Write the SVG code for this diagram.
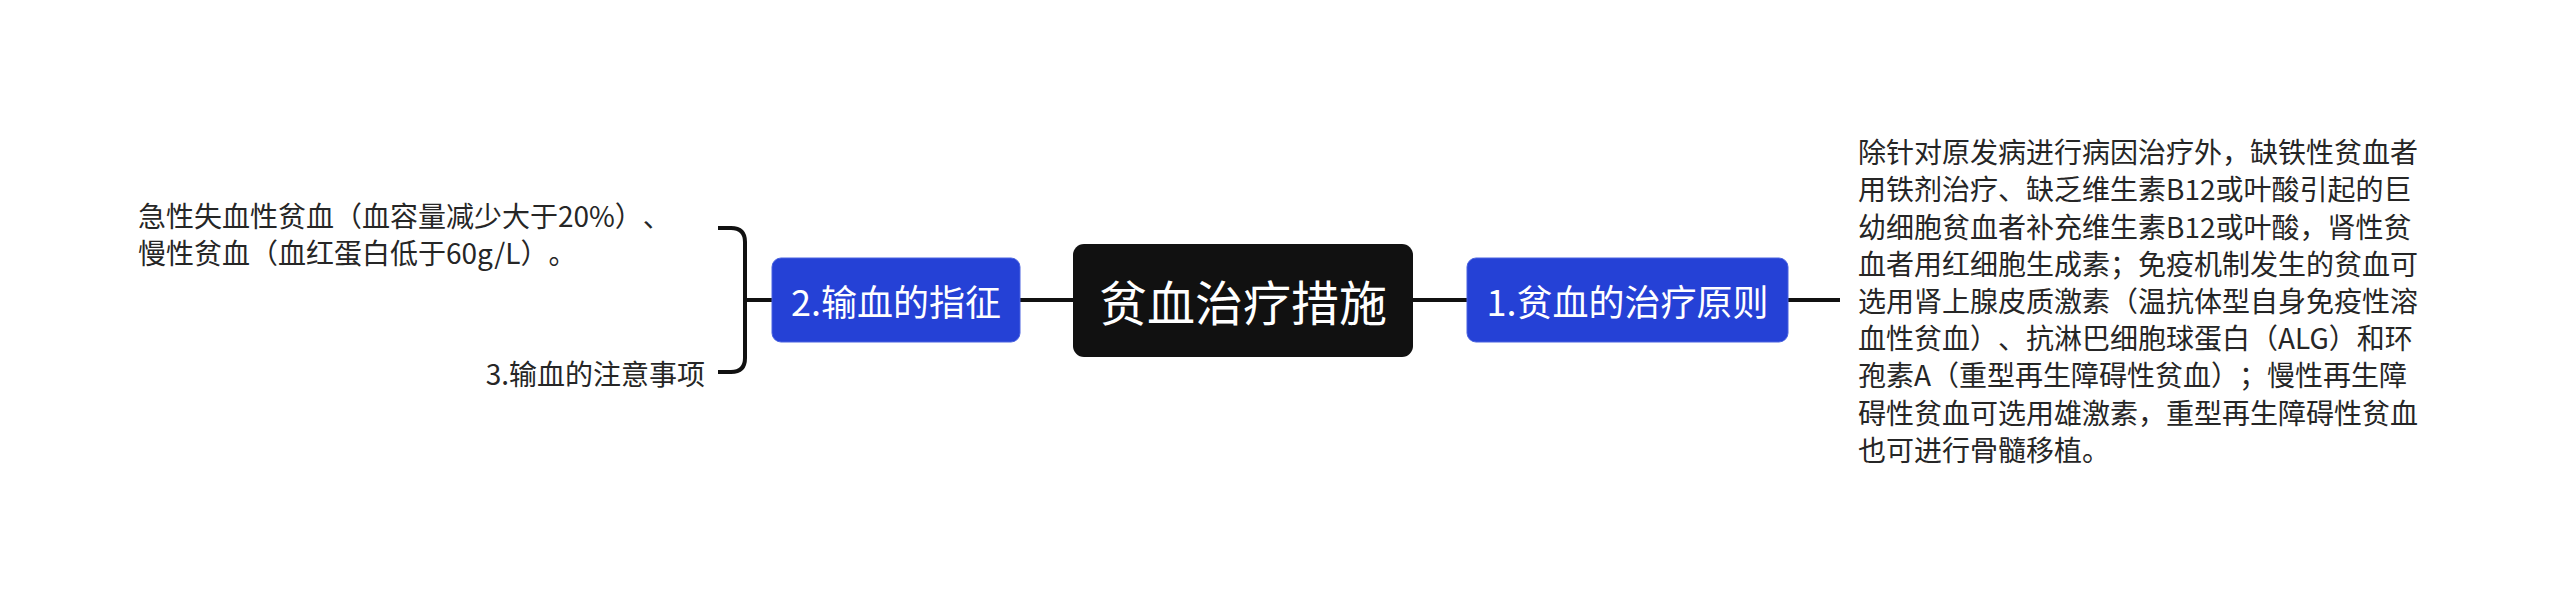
<svg xmlns="http://www.w3.org/2000/svg" width="2560" height="601" viewBox="0 0 2560 601">
  <style>
    text { text-spacing-trim: space-all; font-feature-settings: "halt" 0, "chws" 0; }
    .txt { font-family: "Noto Sans CJK SC", "Noto Sans", sans-serif; fill: #262626; font-size: 28px; dominant-baseline: central; }
    .ntxt { font-family: "Noto Sans CJK SC", "Noto Sans", sans-serif; fill: #ffffff; text-anchor: middle; dominant-baseline: central; }
    .blue { fill: #2541d6; stroke: #4a63e0; stroke-width: 1; }
    .conn { fill: none; stroke: #111111; stroke-width: 4; }
  </style>
  <rect width="2560" height="601" fill="#ffffff"/>
  <g id="connectors">
    <line class="conn" x1="1413" y1="300" x2="1467" y2="300"/>
    <line class="conn" x1="1788" y1="300" x2="1840" y2="300"/>
    <line class="conn" x1="1020" y1="300" x2="1073" y2="300"/>
    <line class="conn" x1="745" y1="300" x2="772" y2="300"/>
    <path class="conn" d="M718 228 H731 Q745 228 745 242 V358 Q745 372 731 372 H718"/>
  </g>
  <g id="center">
    <rect x="1073" y="244" width="340" height="113" rx="11" fill="#111111"/>
    <text class="ntxt" x="1243" y="300" font-size="48">贫血治疗措施</text>
  </g>
  <g id="node1">
    <rect class="blue" x="1467" y="258" width="321" height="84" rx="9"/>
    <text class="ntxt" x="1627.5" y="300" font-size="36">1.贫血的治疗原则</text>
  </g>
  <g id="node1-detail">
    <text class="txt" x="1858" y="151">除针对原发病进行病因治疗外，缺铁性贫血者</text>
    <text class="txt" x="1858" y="188.4">用铁剂治疗、缺乏维生素B12或叶酸引起的巨</text>
    <text class="txt" x="1858" y="225.6">幼细胞贫血者补充维生素B12或叶酸，肾性贫</text>
    <text class="txt" x="1858" y="262.8">血者用红细胞生成素；免疫机制发生的贫血可</text>
    <text class="txt" x="1858" y="300">选用肾上腺皮质激素（温抗体型自身免疫性溶</text>
    <text class="txt" x="1858" y="337.2">血性贫血）、抗淋巴细胞球蛋白（ALG）和环</text>
    <text class="txt" x="1858" y="374.4">孢素A（重型再生障碍性贫血）；慢性再生障</text>
    <text class="txt" x="1858" y="411.6">碍性贫血可选用雄激素，重型再生障碍性贫血</text>
    <text class="txt" x="1858" y="448.8">也可进行骨髓移植。</text>
  </g>
  <g id="node2">
    <rect class="blue" x="772" y="258" width="248" height="84" rx="9"/>
    <text class="ntxt" x="896" y="300" font-size="36">2.输血的指征</text>
  </g>
  <g id="node2-detail">
    <text class="txt" x="138" y="215">急性失血性贫血（血容量减少大于20%）、</text>
    <text class="txt" x="138" y="252">慢性贫血（血红蛋白低于60g/L）。</text>
  </g>
  <g id="node3">
    <text class="txt" x="705" y="373" text-anchor="end">3.输血的注意事项</text>
  </g>
</svg>
